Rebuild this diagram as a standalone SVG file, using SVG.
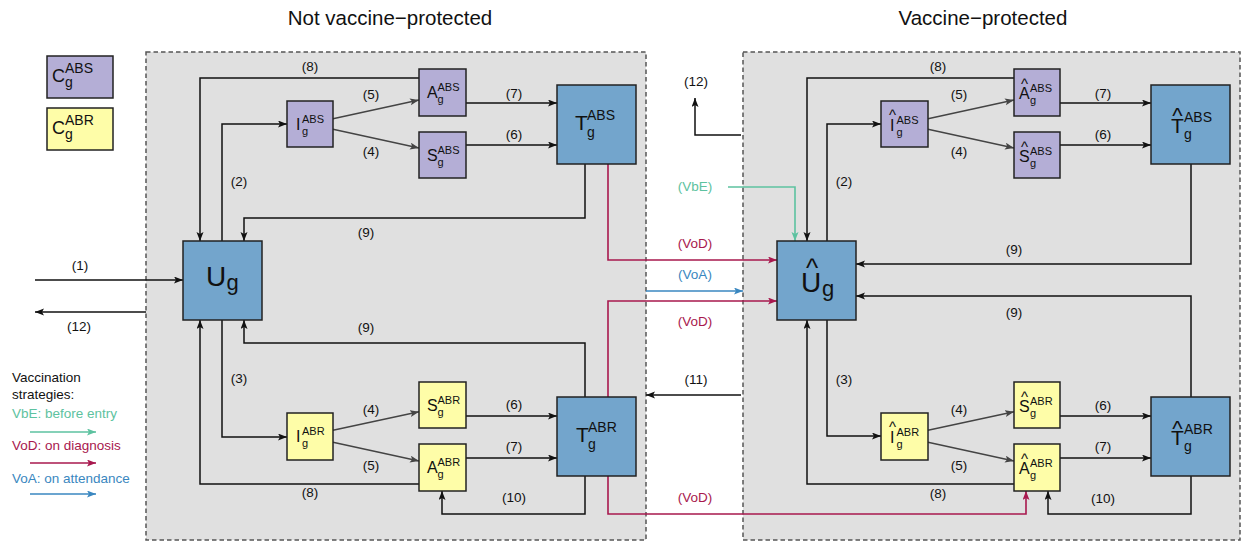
<svg xmlns="http://www.w3.org/2000/svg" width="1242" height="541" viewBox="0 0 1242 541">
<style>
text{font-family:"Liberation Sans",Arial,sans-serif;fill:#111}
.title{font-size:20.5px;text-anchor:middle}
.lab{font-size:13.5px;text-anchor:middle}
.leg{font-size:13.5px}
.panel{fill:#e0e0e0;stroke:#555;stroke-width:1.5;stroke-dasharray:4.5,3}
.blue{fill:#73a5cc;stroke:#222;stroke-width:1.5}
.purp{fill:#b4aed6;stroke:#222;stroke-width:1.5}
.yel{fill:#fefda8;stroke:#222;stroke-width:1.5}
.m{font-size:16px}
.s{font-size:11px}
.hs{font-size:15px}
.tm{font-size:21px}
.ts{font-size:14px}
.ht{font-size:22px}
.um{font-size:28px}
.us{font-size:22px}
.hu{font-size:26px}
.c{fill:none;stroke:#111;stroke-width:1.5}
.d{fill:none;stroke:#444;stroke-width:1.4}
.vod{fill:none;stroke:#a8184e;stroke-width:1.6}
.vbe{fill:none;stroke:#5dc2a0;stroke-width:1.6}
.voa{fill:none;stroke:#3a87c0;stroke-width:1.6}
.tvod{fill:#a8184e}
.tvbe{fill:#5dc2a0}
.tvoa{fill:#3a87c0}
</style>
<defs>
<marker id="ak" markerWidth="10" markerHeight="8" refX="9" refY="3.5" orient="auto" markerUnits="userSpaceOnUse"><path d="M0,0 L9,3.5 L0,7 L2,3.5 z" fill="#111"/></marker>
<marker id="ag" markerWidth="10" markerHeight="8" refX="9" refY="3.5" orient="auto" markerUnits="userSpaceOnUse"><path d="M0,0 L9,3.5 L0,7 L2,3.5 z" fill="#444"/></marker>
<marker id="ar" markerWidth="10" markerHeight="8" refX="9" refY="3.5" orient="auto" markerUnits="userSpaceOnUse"><path d="M0,0 L9,3.5 L0,7 L2,3.5 z" fill="#a8184e"/></marker>
<marker id="at" markerWidth="10" markerHeight="8" refX="9" refY="3.5" orient="auto" markerUnits="userSpaceOnUse"><path d="M0,0 L9,3.5 L0,7 L2,3.5 z" fill="#5dc2a0"/></marker>
<marker id="ab" markerWidth="10" markerHeight="8" refX="9" refY="3.5" orient="auto" markerUnits="userSpaceOnUse"><path d="M0,0 L9,3.5 L0,7 L2,3.5 z" fill="#3a87c0"/></marker>
</defs>

<g id="panels">
<rect class="panel" x="146" y="52" width="500" height="488"/>
<rect class="panel" x="743" y="52" width="497" height="488"/>
</g>
<text class="title" x="390" y="25">Not vaccine−protected</text>
<text class="title" x="983" y="25">Vaccine−protected</text>

<g id="legend">
<rect class="purp" x="47" y="56" width="66" height="42"/>
<text><tspan x="52" y="82" style="font-size:18px">C</tspan><tspan x="65" y="73" style="font-size:14px">ABS</tspan><tspan x="65" y="87" style="font-size:14px">g</tspan></text>
<rect class="yel" x="47" y="108" width="66" height="42"/>
<text><tspan x="52" y="134" style="font-size:18px">C</tspan><tspan x="65" y="125" style="font-size:14px">ABR</tspan><tspan x="65" y="139" style="font-size:14px">g</tspan></text>
<text class="leg" x="12" y="382">Vaccination</text>
<text class="leg" x="12" y="399">strategies:</text>
<text class="leg tvbe" x="12" y="418">VbE: before entry</text>
<line class="vbe" x1="30" y1="432" x2="96" y2="432" marker-end="url(#at)"/>
<text class="leg tvod" x="12" y="450">VoD: on diagnosis</text>
<line class="vod" x1="30" y1="463" x2="96" y2="463" marker-end="url(#ar)"/>
<text class="leg tvoa" x="12" y="483">VoA: on attendance</text>
<line class="voa" x1="30" y1="494" x2="96" y2="494" marker-end="url(#ab)"/>
</g>

<g id="connectors">
<polyline class="c" points="419,78 200,78 200,241" marker-end="url(#ak)"/>
<polyline class="c" points="222,241 222,124 287,124" marker-end="url(#ak)"/>
<line class="d" x1="333" y1="118.7" x2="419" y2="100" marker-end="url(#ag)"/>
<line class="d" x1="333" y1="129.3" x2="419" y2="148" marker-end="url(#ag)"/>
<line class="c" x1="466" y1="103" x2="557" y2="103" marker-end="url(#ak)"/>
<line class="c" x1="466" y1="145" x2="557" y2="145" marker-end="url(#ak)"/>
<polyline class="c" points="585,164 585,218 244,218 244,241" marker-end="url(#ak)"/>
<polyline class="c" points="585,397 585,343 244,343 244,320" marker-end="url(#ak)"/>
<polyline class="c" points="419,484 200,484 200,320" marker-end="url(#ak)"/>
<polyline class="c" points="222,320 222,437 287,437" marker-end="url(#ak)"/>
<line class="d" x1="333" y1="430.3" x2="419" y2="411.7" marker-end="url(#ag)"/>
<line class="d" x1="333" y1="442.3" x2="419" y2="461" marker-end="url(#ag)"/>
<line class="c" x1="466" y1="416" x2="557" y2="416" marker-end="url(#ak)"/>
<line class="c" x1="466" y1="458" x2="557" y2="458" marker-end="url(#ak)"/>
<polyline class="c" points="585,476 585,514 442,514 442,491" marker-end="url(#ak)"/>
<line class="c" x1="35" y1="280" x2="183" y2="280" marker-end="url(#ak)"/>
<line class="c" x1="146" y1="312" x2="35" y2="312" marker-end="url(#ak)"/>
<polyline class="c" points="741,135 695,135 695,98" marker-end="url(#ak)"/>
<polyline class="vbe" points="728,187 795,187 795,241" marker-end="url(#at)"/>
<polyline class="vod" points="608,164 608,260 777,260" marker-end="url(#ar)"/>
<line class="voa" x1="646" y1="291" x2="743" y2="291" marker-end="url(#ab)"/>
<polyline class="vod" points="608,397 608,301 777,301" marker-end="url(#ar)"/>
<line class="c" x1="741" y1="395" x2="646" y2="395" marker-end="url(#ak)"/>
<polyline class="vod" points="608,476 608,514 1026,514 1026,491" marker-end="url(#ar)"/>
<polyline class="c" points="1014,78 807,78 807,241" marker-end="url(#ak)"/>
<polyline class="c" points="827,241 827,124 881,124" marker-end="url(#ak)"/>
<line class="d" x1="928" y1="118.7" x2="1014" y2="100" marker-end="url(#ag)"/>
<line class="d" x1="928" y1="129.3" x2="1014" y2="148" marker-end="url(#ag)"/>
<line class="c" x1="1060" y1="103" x2="1151" y2="103" marker-end="url(#ak)"/>
<line class="c" x1="1060" y1="145" x2="1151" y2="145" marker-end="url(#ak)"/>
<polyline class="c" points="1191,164 1191,264 856,264" marker-end="url(#ak)"/>
<polyline class="c" points="1191,397 1191,296 856,296" marker-end="url(#ak)"/>
<polyline class="c" points="827,320 827,436 881,436" marker-end="url(#ak)"/>
<line class="d" x1="928" y1="430.3" x2="1014" y2="411.7" marker-end="url(#ag)"/>
<line class="d" x1="928" y1="442.3" x2="1014" y2="461" marker-end="url(#ag)"/>
<line class="c" x1="1060" y1="416" x2="1151" y2="416" marker-end="url(#ak)"/>
<line class="c" x1="1060" y1="458" x2="1151" y2="458" marker-end="url(#ak)"/>
<polyline class="c" points="1014,484 807,484 807,320" marker-end="url(#ak)"/>
<polyline class="c" points="1191,476 1191,514 1048,514 1048,491" marker-end="url(#ak)"/>
</g>

<g id="connector-labels">
<text class="lab" x="310" y="71">(8)</text>
<text class="lab" x="371" y="99">(5)</text>
<text class="lab" x="371" y="156">(4)</text>
<text class="lab" x="239" y="186">(2)</text>
<text class="lab" x="514" y="98">(7)</text>
<text class="lab" x="514" y="139">(6)</text>
<text class="lab" x="366" y="237">(9)</text>
<text class="lab" x="366" y="332">(9)</text>
<text class="lab" x="80" y="270">(1)</text>
<text class="lab" x="79" y="331">(12)</text>
<text class="lab" x="239" y="383">(3)</text>
<text class="lab" x="371" y="414">(4)</text>
<text class="lab" x="371" y="470">(5)</text>
<text class="lab" x="514" y="409">(6)</text>
<text class="lab" x="514" y="451">(7)</text>
<text class="lab" x="310" y="497">(8)</text>
<text class="lab" x="514" y="502">(10)</text>
<text class="lab" x="696" y="86">(12)</text>
<text class="lab tvbe" x="695" y="191">(VbE)</text>
<text class="lab tvod" x="695" y="248">(VoD)</text>
<text class="lab tvoa" x="695" y="279">(VoA)</text>
<text class="lab tvod" x="695" y="326">(VoD)</text>
<text class="lab" x="696" y="384">(11)</text>
<text class="lab tvod" x="695" y="502">(VoD)</text>
<text class="lab" x="938" y="71">(8)</text>
<text class="lab" x="959" y="99">(5)</text>
<text class="lab" x="959" y="156">(4)</text>
<text class="lab" x="844" y="186">(2)</text>
<text class="lab" x="1103" y="98">(7)</text>
<text class="lab" x="1103" y="139">(6)</text>
<text class="lab" x="1014" y="254">(9)</text>
<text class="lab" x="1014" y="317">(9)</text>
<text class="lab" x="844" y="384">(3)</text>
<text class="lab" x="959" y="414">(4)</text>
<text class="lab" x="959" y="470">(5)</text>
<text class="lab" x="1103" y="410">(6)</text>
<text class="lab" x="1103" y="451">(7)</text>
<text class="lab" x="938" y="498">(8)</text>
<text class="lab" x="1103" y="503">(10)</text>
</g>

<g id="U">
<rect class="blue" x="183" y="241" width="79" height="79"/>
<text><tspan class="um" x="206" y="286">U</tspan><tspan class="us" x="226.5" y="290">g</tspan></text>
</g>
<g id="I_ABS">
<rect class="purp" x="287" y="101" width="46" height="46"/>
<text><tspan class="m" x="296" y="130">I</tspan><tspan class="s" x="302" y="123">ABS</tspan><tspan class="s" x="302" y="134.5">g</tspan></text>
</g>
<g id="A_ABS">
<rect class="purp" x="419" y="69" width="47" height="47"/>
<text><tspan class="m" x="427" y="98">A</tspan><tspan class="s" x="437.5" y="91">ABS</tspan><tspan class="s" x="437.5" y="102.5">g</tspan></text>
</g>
<g id="S_ABS">
<rect class="purp" x="419" y="132" width="47" height="46"/>
<text><tspan class="m" x="427" y="161">S</tspan><tspan class="s" x="437.5" y="154">ABS</tspan><tspan class="s" x="437.5" y="165.5">g</tspan></text>
</g>
<g id="T_ABS">
<rect class="blue" x="557" y="85" width="79" height="79"/>
<text><tspan class="tm" x="575" y="130">T</tspan><tspan class="ts" x="587" y="120">ABS</tspan><tspan class="ts" x="587" y="137">g</tspan></text>
</g>
<g id="I_ABR">
<rect class="yel" x="287" y="413" width="46" height="47"/>
<text><tspan class="m" x="296" y="442">I</tspan><tspan class="s" x="302" y="435">ABR</tspan><tspan class="s" x="302" y="446.5">g</tspan></text>
</g>
<g id="S_ABR">
<rect class="yel" x="419" y="382" width="47" height="46"/>
<text><tspan class="m" x="427" y="411">S</tspan><tspan class="s" x="437.5" y="404">ABR</tspan><tspan class="s" x="437.5" y="415.5">g</tspan></text>
</g>
<g id="A_ABR">
<rect class="yel" x="419" y="444" width="47" height="47"/>
<text><tspan class="m" x="427" y="473">A</tspan><tspan class="s" x="437.5" y="466">ABR</tspan><tspan class="s" x="437.5" y="477.5">g</tspan></text>
</g>
<g id="T_ABR">
<rect class="blue" x="557" y="397" width="79" height="79"/>
<text><tspan class="tm" x="576" y="442">T</tspan><tspan class="ts" x="588" y="432">ABR</tspan><tspan class="ts" x="588" y="449">g</tspan></text>
</g>

<g id="Uhat">
<rect class="blue" x="777" y="241" width="79" height="79"/>
<text><tspan class="hu" x="805.9" y="277">^</tspan><tspan class="um" x="801" y="292">U</tspan><tspan class="us" x="822" y="296">g</tspan></text>
</g>
<g id="Ihat_ABS">
<rect class="purp" x="881" y="101" width="47" height="46"/>
<text><tspan class="hs" x="889" y="120">^</tspan><tspan class="m" x="890" y="131">I</tspan><tspan class="s" x="896.5" y="124">ABS</tspan><tspan class="s" x="896.5" y="135.5">g</tspan></text>
</g>
<g id="Ahat_ABS">
<rect class="purp" x="1014" y="69" width="46" height="47"/>
<text><tspan class="hs" x="1021" y="89">^</tspan><tspan class="m" x="1019" y="99">A</tspan><tspan class="s" x="1030" y="92">ABS</tspan><tspan class="s" x="1030" y="103.5">g</tspan></text>
</g>
<g id="Shat_ABS">
<rect class="purp" x="1014" y="132" width="46" height="46"/>
<text><tspan class="hs" x="1021" y="152">^</tspan><tspan class="m" x="1019" y="162">S</tspan><tspan class="s" x="1030" y="155">ABS</tspan><tspan class="s" x="1030" y="166.5">g</tspan></text>
</g>
<g id="That_ABS">
<rect class="blue" x="1151" y="85" width="79" height="79"/>
<text><tspan class="ht" x="1172.3" y="123">^</tspan><tspan class="tm" x="1171" y="132.5">T</tspan><tspan class="ts" x="1184" y="122">ABS</tspan><tspan class="ts" x="1184" y="139">g</tspan></text>
</g>
<g id="Ihat_ABR">
<rect class="yel" x="881" y="413" width="47" height="47"/>
<text><tspan class="hs" x="889" y="432">^</tspan><tspan class="m" x="890" y="443">I</tspan><tspan class="s" x="896.5" y="436">ABR</tspan><tspan class="s" x="896.5" y="447.5">g</tspan></text>
</g>
<g id="Shat_ABR">
<rect class="yel" x="1014" y="382" width="46" height="46"/>
<text><tspan class="hs" x="1021" y="402">^</tspan><tspan class="m" x="1019" y="412">S</tspan><tspan class="s" x="1030" y="405">ABR</tspan><tspan class="s" x="1030" y="416.5">g</tspan></text>
</g>
<g id="Ahat_ABR">
<rect class="yel" x="1014" y="444" width="46" height="47"/>
<text><tspan class="hs" x="1021" y="464">^</tspan><tspan class="m" x="1019" y="474">A</tspan><tspan class="s" x="1030" y="467">ABR</tspan><tspan class="s" x="1030" y="478.5">g</tspan></text>
</g>
<g id="That_ABR">
<rect class="blue" x="1151" y="397" width="79" height="79"/>
<text><tspan class="ht" x="1172.3" y="436">^</tspan><tspan class="tm" x="1171" y="445">T</tspan><tspan class="ts" x="1184" y="434">ABR</tspan><tspan class="ts" x="1184" y="451">g</tspan></text>
</g>
</svg>
